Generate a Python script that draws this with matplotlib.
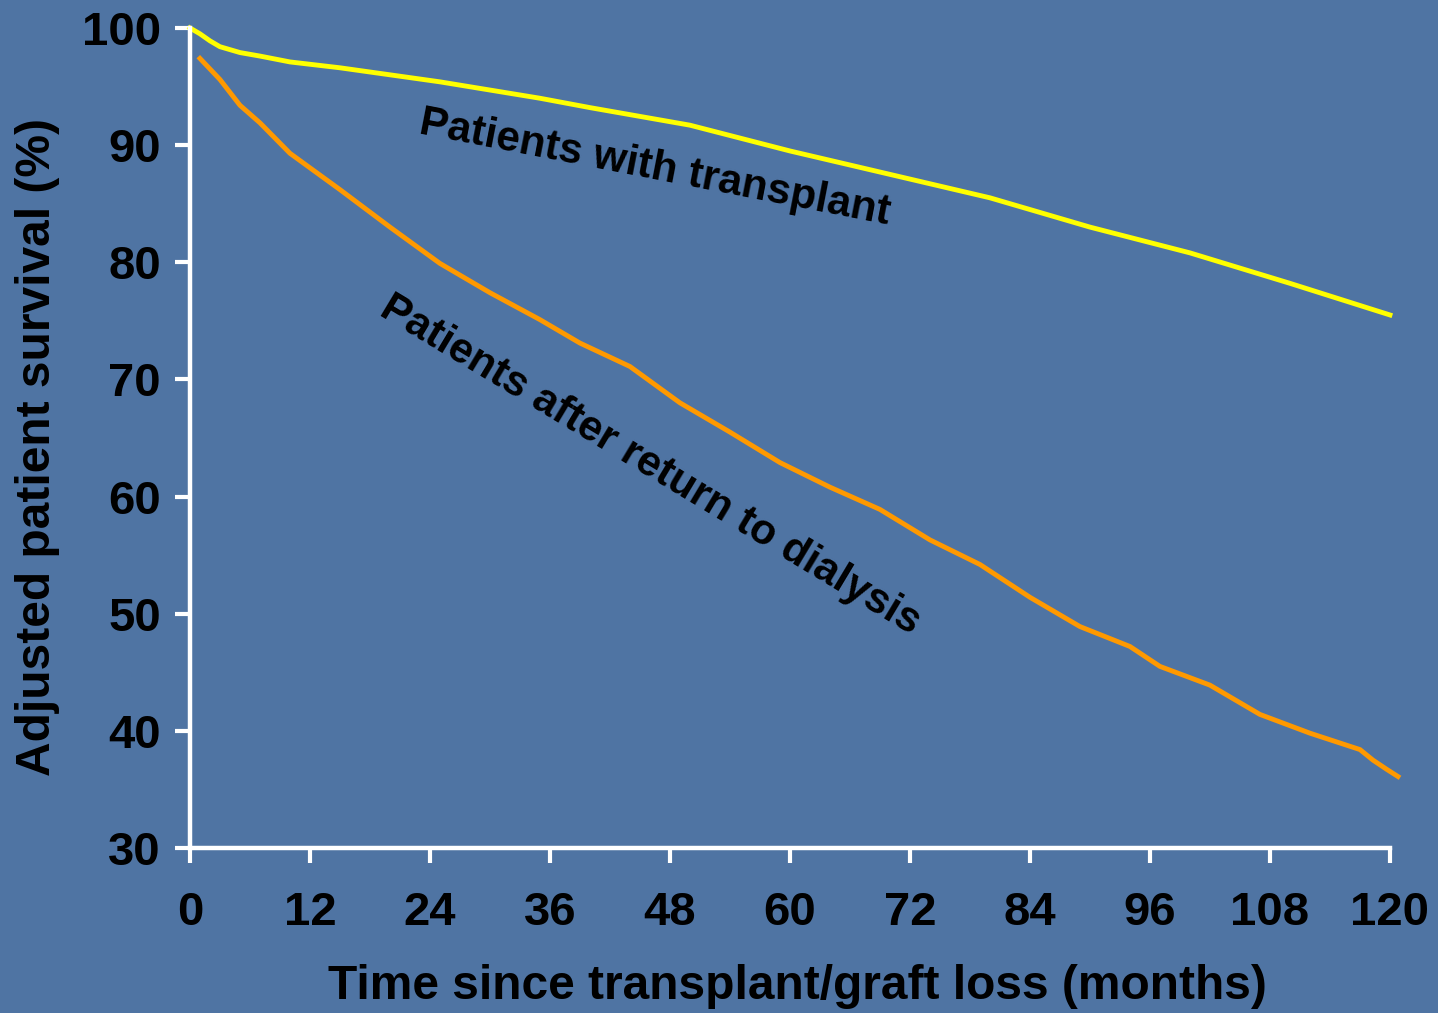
import matplotlib
matplotlib.use('Agg')
import matplotlib.pyplot as plt

plt.rcParams['font.family'] = ['Liberation Sans', 'DejaVu Sans']
plt.rcParams['font.weight'] = 'bold'

# Adjusted survival (months, %)
transplant_months = [0, 1, 2, 3, 5, 7, 10, 15, 20, 25, 30, 35, 40, 50, 60, 70, 80, 90, 100, 110, 120]
transplant_surv = [100, 99.5, 98.9, 98.4, 97.9, 97.6, 97.1, 96.6, 96.0, 95.4, 94.7, 94.0, 93.2,
                   91.7, 89.5, 87.5, 85.5, 83.0, 80.8, 78.2, 75.5]

dialysis_months = [1, 3, 5, 7, 10, 15, 20, 25, 30, 35, 39, 44, 49, 54, 59, 64, 69, 74, 79,
                   84, 89, 94, 97, 102, 107, 112, 117, 118.3, 119.7, 120.8]
dialysis_surv = [97.4, 95.6, 93.4, 91.9, 89.3, 86.2, 83.0, 79.9, 77.4, 75.1, 73.1, 71.1, 68.0,
                 65.5, 62.9, 60.8, 58.9, 56.3, 54.2, 51.4, 48.9, 47.2, 45.5, 43.9, 41.4, 39.8,
                 38.4, 37.5, 36.7, 36.1]

x_ticks = list(range(0, 121, 12))
y_ticks = list(range(30, 101, 10))

bg = '#4F74A3'

fig = plt.figure(figsize=(14.38, 10.13), dpi=100, facecolor=bg)
ax = fig.add_axes([0.1321, 0.1629, 0.8345, 0.8095])
ax.set_facecolor(bg)

ax.plot(transplant_months, transplant_surv, color='#FFFF00', lw=3.5, solid_joinstyle='miter',
        clip_on=False)
ax.plot(dialysis_months, dialysis_surv, color='#FF9900', lw=3.5, solid_joinstyle='miter',
        clip_on=False)

ax.set_xlim(0, 120)
ax.set_ylim(30, 100)
ax.set_xticks(x_ticks)
ax.set_yticks(y_ticks)

for side in ['top', 'right']:
    ax.spines[side].set_visible(False)
for side in ['left', 'bottom']:
    ax.spines[side].set_color('white')
    ax.spines[side].set_linewidth(3.2)

ax.tick_params(axis='both', colors='white', labelcolor='black', length=11, width=3,
               labelsize=34)
ax.tick_params(axis='y', pad=10)
ax.tick_params(axis='x', pad=20)
for lab in ax.get_xticklabels() + ax.get_yticklabels():
    lab.set_fontweight('bold')

ax.set_xlabel('Time since transplant/graft loss (months)', fontsize=34.5, fontweight='bold')
ax.set_ylabel('Adjusted patient survival (%)', fontsize=34.5, fontweight='bold')
ax.xaxis.set_label_coords(0.506, -0.142)
ax.yaxis.set_label_coords(-0.108, 0.489)

ax.text(46.5, 88.0, 'Patients with transplant', rotation=-11, fontsize=30.5, fontweight='bold',
        ha='center', va='center', rotation_mode='anchor')
ax.text(46, 62.7, 'Patients after return to dialysis', rotation=-31, fontsize=30.5,
        fontweight='bold', ha='center', va='center', rotation_mode='anchor')

fig.savefig('out.png', dpi=100, facecolor=bg)
